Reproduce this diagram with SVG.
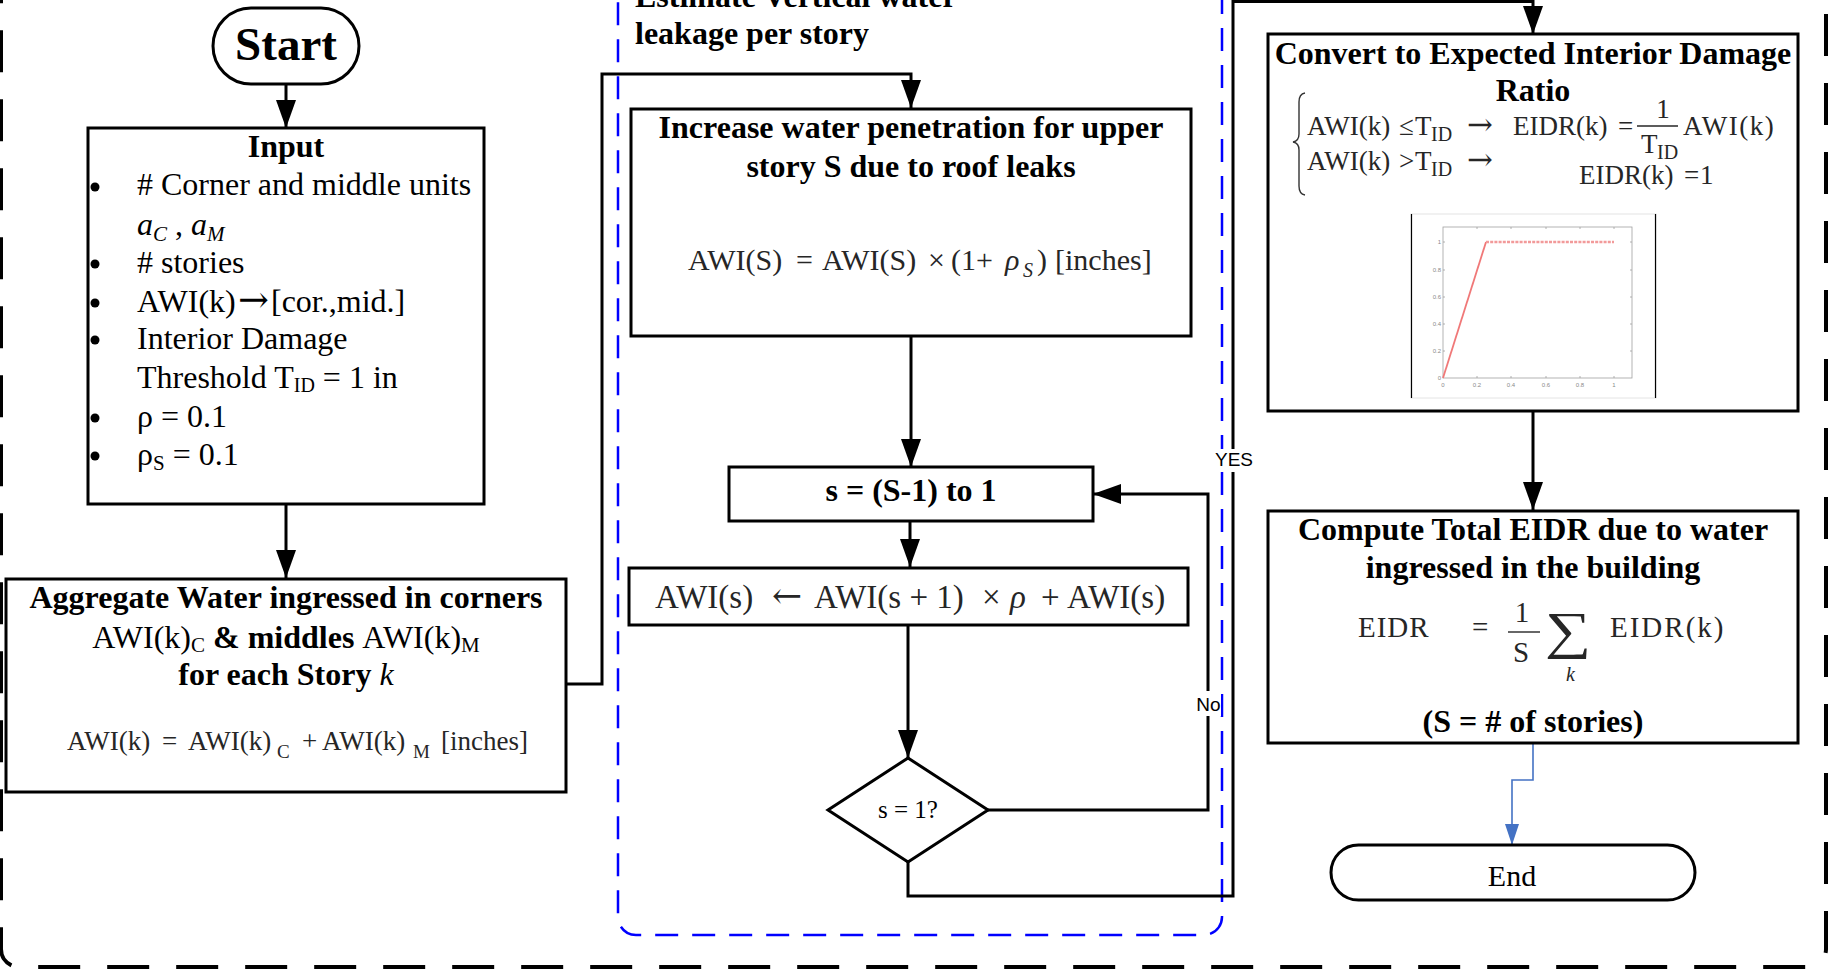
<svg xmlns="http://www.w3.org/2000/svg" width="1829" height="971" viewBox="0 0 1829 971">
  <style>
    .box { fill: #fff; stroke: #000; stroke-width: 3; }
    .conn { fill: none; stroke: #000; stroke-width: 3; }
    .serif { font-family: "Liberation Serif", "Times New Roman", serif; fill: #000; }
    .bold { font-weight: bold; font-size: 32px; }
    .reg { font-size: 32px; }
    .eq { fill: #262626; }
    .arr { font-family: "DejaVu Serif", serif; }
    .bullet { fill: #000; }
    .lbl { font-family: "Liberation Sans", Arial, sans-serif; font-size: 19px; fill: #000; }
    .tick { font-family: "Liberation Sans", Arial, sans-serif; font-size: 6px; fill: #8a8a8a; }
  </style>
  <defs>
    <marker id="arrow" markerUnits="userSpaceOnUse" markerWidth="28" markerHeight="20" refX="28" refY="10" orient="auto">
      <path d="M0,0 L28,10 L0,20 z" fill="#000"/>
    </marker>
    <marker id="arrowBlue" markerUnits="userSpaceOnUse" markerWidth="21" markerHeight="14" refX="21" refY="7" orient="auto">
      <path d="M0,0 L21,7 L0,14 z" fill="#4472c4"/>
    </marker>
  </defs>

  <rect width="1829" height="971" fill="#fff"/>

  <!-- outer frame -->
  <rect id="outer-frame" x="1" y="-50" width="1825" height="1017" rx="18" fill="none" stroke="#000" stroke-width="4" stroke-dasharray="42 27"/>

  <!-- vertical leakage group -->
  <g id="leakage-group">
    <rect x="618" y="-60" width="604" height="995" rx="18" fill="none" stroke="#0000ff" stroke-width="2.5" stroke-dasharray="23 14"/>
    <text class="serif bold" x="635" y="7">Estimate Vertical water</text>
    <text class="serif bold" x="635" y="44">leakage per story</text>
  </g>

  <!-- connectors -->
  <g id="connectors">
    <path class="conn" d="M286,84 V128" marker-end="url(#arrow)"/>
    <path class="conn" d="M286,504 V578" marker-end="url(#arrow)"/>
    <path class="conn" d="M566,684 H602 V74 H911 V108" marker-end="url(#arrow)"/>
    <path class="conn" d="M911,336 V467" marker-end="url(#arrow)"/>
    <path class="conn" d="M910,521 V567" marker-end="url(#arrow)"/>
    <path class="conn" d="M908,625 V758" marker-end="url(#arrow)"/>
    <path class="conn" d="M988,810 H1208 V494 H1093" marker-end="url(#arrow)"/>
    <path class="conn" d="M908,861 V896 H1233 V1.5 H1533 V34" marker-end="url(#arrow)"/>
    <path class="conn" d="M1533,411 V510" marker-end="url(#arrow)"/>
    <path d="M1533,743 V780 H1512 V845" fill="none" stroke="#4472c4" stroke-width="1.6" marker-end="url(#arrowBlue)"/>
    <rect x="1197" y="691" width="24" height="25" fill="#fff"/>
    <text class="lbl" x="1208.5" y="711" text-anchor="middle">No</text>
    <rect x="1213" y="449" width="42" height="23" fill="#fff"/>
    <text class="lbl" x="1234" y="466" text-anchor="middle" font-size="20">YES</text>
  </g>

  <!-- Start -->
  <g id="start">
    <rect class="box" x="213" y="8" width="146" height="76" rx="38"/>
    <text class="serif" x="286" y="60" text-anchor="middle" font-size="47" font-weight="bold">Start</text>
  </g>

  <!-- Input -->
  <g id="input">
    <rect class="box" x="88" y="128" width="396" height="376"/>
    <text class="serif bold" x="286" y="157" text-anchor="middle">Input</text>
    <g class="bullet">
      <circle cx="95" cy="187" r="4.5"/>
      <circle cx="95" cy="264" r="4.5"/>
      <circle cx="95" cy="303" r="4.5"/>
      <circle cx="95" cy="340" r="4.5"/>
      <circle cx="95" cy="418" r="4.5"/>
      <circle cx="95" cy="456" r="4.5"/>
    </g>
    <g class="serif reg">
      <text x="137" y="195"># Corner and middle units</text>
      <text x="137" y="235" font-style="italic">a<tspan font-size="21" dy="6">C</tspan><tspan dy="-6" font-style="normal"> , </tspan>a<tspan font-size="21" dy="6">M</tspan></text>
      <text x="137" y="273"># stories</text>
      <text y="312"><tspan x="137">AWI(k)</tspan><tspan class="arr" x="238" font-size="37">→</tspan><tspan x="271">[cor.,mid.]</tspan></text>
      <text x="137" y="349">Interior Damage</text>
      <text x="137" y="388">Threshold T<tspan font-size="20" dy="4">ID</tspan><tspan dy="-4"> = 1 in</tspan></text>
      <text x="137" y="427">ρ = 0.1</text>
      <text x="137" y="465">ρ<tspan font-size="21" dy="5">S</tspan><tspan dy="-5"> = 0.1</tspan></text>
    </g>
  </g>

  <!-- Aggregate -->
  <g id="aggregate">
    <rect class="box" x="6" y="579" width="560" height="213"/>
    <text class="serif bold" x="286" y="608" text-anchor="middle">Aggregate Water ingressed in corners</text>
    <text class="serif reg" x="286" y="648" text-anchor="middle">AWI(k)<tspan font-size="21" dy="4">C</tspan><tspan dy="-4" font-weight="bold"> &amp; middles </tspan>AWI(k)<tspan font-size="21" dy="4">M</tspan></text>
    <text class="serif bold" x="286" y="685" text-anchor="middle">for each Story <tspan font-style="italic" font-weight="normal">k</tspan></text>
    <text class="serif eq" font-size="27" y="750">
      <tspan x="67">AWI(k)</tspan><tspan x="162">=</tspan><tspan x="188">AWI(k)</tspan><tspan x="277" y="758" font-size="19">C</tspan><tspan x="302" y="750">+</tspan><tspan x="322">AWI(k)</tspan><tspan x="413" y="758" font-size="19">M</tspan><tspan x="441" y="750">[inches]</tspan>
    </text>
  </g>

  <!-- Increase -->
  <g id="increase">
    <rect class="box" x="631" y="109" width="560" height="227"/>
    <text class="serif bold" x="911" y="138" text-anchor="middle">Increase water penetration for upper</text>
    <text class="serif bold" x="911" y="177" text-anchor="middle">story S due to roof leaks</text>
    <text class="serif eq" font-size="30" y="270">
      <tspan x="688">AWI(S)</tspan><tspan x="796">=</tspan><tspan x="822">AWI(S)</tspan><tspan x="928">×</tspan><tspan x="951">(1+</tspan><tspan x="1005" font-style="italic">ρ</tspan><tspan x="1023" y="277" font-size="20" font-style="italic">S</tspan><tspan x="1037" y="270">)</tspan><tspan x="1055">[inches]</tspan>
    </text>
  </g>

  <!-- Loop -->
  <g id="loop">
    <rect class="box" x="729" y="467" width="364" height="54"/>
    <text class="serif bold" x="911" y="501" text-anchor="middle">s = (S-1) to 1</text>
  </g>

  <!-- Update -->
  <g id="update">
    <rect class="box" x="629" y="568" width="559" height="57"/>
    <text class="serif eq" font-size="33" y="608">
      <tspan x="655">AWI(s)</tspan><tspan class="arr" x="772" font-size="36" font-weight="300">←</tspan><tspan x="814">AWI(s + 1)</tspan><tspan x="982">×</tspan><tspan x="1010" font-style="italic">ρ</tspan><tspan x="1041">+</tspan><tspan x="1067">AWI(s)</tspan>
    </text>
  </g>

  <!-- Decision -->
  <g id="decision">
    <polygon class="box" points="908,758 988,810 908,862 828,810"/>
    <text class="serif" x="908" y="818" text-anchor="middle" font-size="25">s = 1?</text>
  </g>

  <!-- Convert -->
  <g id="convert">
    <rect class="box" x="1268" y="34" width="530" height="377"/>
    <text class="serif bold" x="1533" y="64" text-anchor="middle">Convert to Expected Interior Damage</text>
    <text class="serif bold" x="1533" y="101" text-anchor="middle">Ratio</text>
    <path d="M1305,93 Q1299,94 1299,102 V134 Q1299,141 1293,142 Q1299,143 1299,150 V186 Q1299,194 1305,195" fill="none" stroke="#333" stroke-width="1.4"/>
    <g class="serif eq" font-size="27">
      <text y="135"><tspan x="1307">AWI(k)</tspan><tspan x="1399">≤</tspan><tspan x="1415">T</tspan><tspan x="1431" y="141" font-size="20">ID</tspan><tspan class="arr" x="1467" y="135" font-size="31">→</tspan><tspan x="1513">EIDR(k)</tspan><tspan x="1618">=</tspan></text>
      <text x="1663" y="118" text-anchor="middle">1</text>
      <line x1="1637" y1="126" x2="1678" y2="126" stroke="#262626" stroke-width="1.4"/>
      <text y="153"><tspan x="1641">T</tspan><tspan x="1657" y="159" font-size="20">ID</tspan></text>
      <text x="1683" y="135" letter-spacing="1.5">AWI(k)</text>
      <text y="170"><tspan x="1307">AWI(k)</tspan><tspan x="1399">&gt;</tspan><tspan x="1415">T</tspan><tspan x="1431" y="176" font-size="20">ID</tspan><tspan class="arr" x="1467" y="170" font-size="31">→</tspan></text>
      <text y="184"><tspan x="1579">EIDR(k)</tspan><tspan x="1684">=</tspan><tspan x="1700">1</tspan></text>
    </g>
    <g id="chart">
      <rect x="1411" y="214" width="245" height="184" fill="#fff" stroke="#e4e4e4" stroke-width="1"/>
      <line x1="1411.5" y1="214" x2="1411.5" y2="398" stroke="#000" stroke-width="1.2"/>
      <line x1="1655.5" y1="214" x2="1655.5" y2="398" stroke="#000" stroke-width="1.2"/>
      <rect x="1443" y="227" width="189" height="151" fill="none" stroke="#a0a0a0" stroke-width="0.8"/>
      <g stroke="#a0a0a0" stroke-width="0.8">
        <path d="M1443,351 h2 M1443,324 h2 M1443,297 h2 M1443,270 h2 M1443,242 h2"/>
        <path d="M1632,351 h-2 M1632,324 h-2 M1632,297 h-2 M1632,270 h-2 M1632,242 h-2"/>
        <path d="M1477,378 v-2 M1511,378 v-2 M1546,378 v-2 M1580,378 v-2 M1614,378 v-2"/>
        <path d="M1477,227 v2 M1511,227 v2 M1546,227 v2 M1580,227 v2 M1614,227 v2"/>
      </g>
      <line x1="1443" y1="378" x2="1486" y2="242" stroke="#f07878" stroke-width="1.8"/>
      <line x1="1486" y1="242" x2="1614" y2="242" stroke="#f29a9a" stroke-width="2.4" stroke-dasharray="3 1.2"/>
      <g class="tick" text-anchor="end">
        <text x="1441" y="244">1</text>
        <text x="1441" y="272">0.8</text>
        <text x="1441" y="299">0.6</text>
        <text x="1441" y="326">0.4</text>
        <text x="1441" y="353">0.2</text>
        <text x="1441" y="380">0</text>
      </g>
      <g class="tick" text-anchor="middle">
        <text x="1443" y="387">0</text>
        <text x="1477" y="387">0.2</text>
        <text x="1511" y="387">0.4</text>
        <text x="1546" y="387">0.6</text>
        <text x="1580" y="387">0.8</text>
        <text x="1614" y="387">1</text>
      </g>
    </g>
  </g>

  <!-- Compute -->
  <g id="compute">
    <rect class="box" x="1268" y="511" width="530" height="232"/>
    <text class="serif bold" x="1533" y="540" text-anchor="middle">Compute Total EIDR due to water</text>
    <text class="serif bold" x="1533" y="578" text-anchor="middle">ingressed in the building</text>
    <g class="serif eq" font-size="29">
      <text x="1358" y="637" letter-spacing="1">EIDR</text>
      <text x="1472" y="637">=</text>
      <text x="1522" y="622" text-anchor="middle">1</text>
      <line x1="1508" y1="632" x2="1540" y2="632" stroke="#262626" stroke-width="1.4"/>
      <text x="1521" y="662" text-anchor="middle">S</text>
      <text transform="translate(1545,648) scale(1.25,1)" font-size="52">∑</text>
      <text x="1566" y="681" font-size="20" font-style="italic">k</text>
      <text x="1610" y="637" letter-spacing="2">EIDR(k)</text>
    </g>
    <text class="serif bold" x="1533" y="732" text-anchor="middle">(S = # of stories)</text>
  </g>

  <!-- End -->
  <g id="end">
    <rect class="box" x="1331" y="845" width="364" height="55" rx="27.5"/>
    <text class="serif" x="1512" y="886" text-anchor="middle" font-size="30">End</text>
  </g>
</svg>
